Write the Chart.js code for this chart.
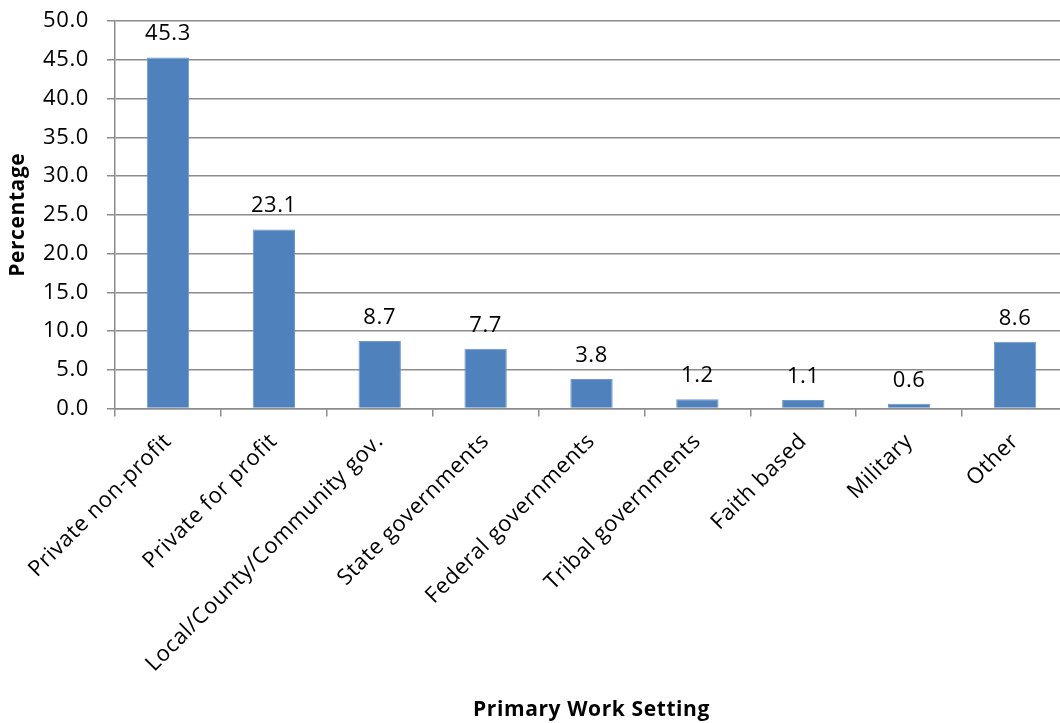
<!DOCTYPE html>
<html>
<head>
<meta charset="utf-8">
<script src="https://cdn.jsdelivr.net/npm/chart.js@4.4.1/dist/chart.umd.min.js"></script>
<style>
  html, body { margin: 0; padding: 0; background: #fff; overflow: hidden; }
  #wrap { width: 1060px; height: 723px; overflow: hidden; }
</style>
</head>
<body>
<div id="wrap"><canvas id="workChart" width="1070" height="723"></canvas></div>
<script>
const settings = [
  'Private non-profit',
  'Private for profit',
  'Local/County/Community gov.',
  'State governments',
  'Federal governments',
  'Tribal governments',
  'Faith based',
  'Military',
  'Other'
];
const percentages = [45.3, 23.1, 8.7, 7.7, 3.8, 1.2, 1.1, 0.6, 8.6];

const gridColor = '#8c8c8c';
const textFont = 'Open Sans';

// a bit of tracking so the text runs as wide as the original typeface
const spacing = {
  id: 'spacing',
  beforeUpdate(chart) { chart.ctx.letterSpacing = '0.6px'; },
  beforeDraw(chart) { chart.ctx.letterSpacing = '0.6px'; }
};

// value labels sitting above each bar
const barValues = {
  id: 'barValues',
  afterDatasetsDraw(chart) {
    const ctx = chart.ctx;
    const meta = chart.getDatasetMeta(0);
    ctx.save();
    ctx.font = '22px "' + textFont + '"';
    ctx.fillStyle = '#000';
    ctx.textAlign = 'center';
    ctx.textBaseline = 'alphabetic';
    meta.data.forEach((bar, i) => {
      ctx.fillText(percentages[i].toFixed(1), bar.x, bar.y - 17);
    });
    ctx.restore();
  }
};

const ctx = document.getElementById('workChart').getContext('2d');
new Chart(ctx, {
  type: 'bar',
  data: {
    labels: settings,
    datasets: [{
      data: percentages,
      backgroundColor: '#4F81BD',
      borderColor: '#7199cc',
      borderWidth: 1,
      barPercentage: 0.4,
      categoryPercentage: 1.0
    }]
  },
  plugins: [spacing, barValues],
  options: {
    responsive: false,
    animation: false,
    layout: { padding: { top: 21, left: 0, right: 2, bottom: 0 } },
    plugins: {
      legend: { display: false },
      tooltip: { enabled: false }
    },
    scales: {
      x: {
        offset: true,
        afterFit(scale) { scale.height = 314.5; },
        grid: {
          offset: true,
          drawOnChartArea: false,
          drawTicks: true,
          tickLength: 8,
          color: gridColor,
          lineWidth: 1.5
        },
        border: { color: gridColor, width: 1.5 },
        ticks: {
          autoSkip: false,
          minRotation: 45,
          maxRotation: 45,
          padding: 12,
          color: '#000',
          font: { family: textFont, size: 22 }
        },
        title: {
          display: true,
          text: 'Primary Work Setting',
          color: '#000',
          font: { family: textFont, size: 21, weight: 'bold' },
          padding: { top: 0, bottom: 0 }
        }
      },
      y: {
        min: 0,
        max: 50,
        afterFit(scale) {
          scale.width = 115;
          // tick padding would otherwise push the plot down
          scale.paddingTop = 0;
          scale.paddingBottom = 0;
        },
        grid: {
          color: gridColor,
          lineWidth: 1.5,
          tickLength: 8
        },
        border: { color: gridColor, width: 1.5 },
        ticks: {
          stepSize: 5,
          padding: 18,
          color: '#000',
          font: { family: textFont, size: 22 },
          callback: v => v.toFixed(1)
        },
        title: {
          display: true,
          text: 'Percentage',
          color: '#000',
          font: { family: textFont, size: 21, weight: 'bold' },
          padding: { top: 5, bottom: 0 }
        }
      }
    }
  }
});
</script>
</body>
</html>
